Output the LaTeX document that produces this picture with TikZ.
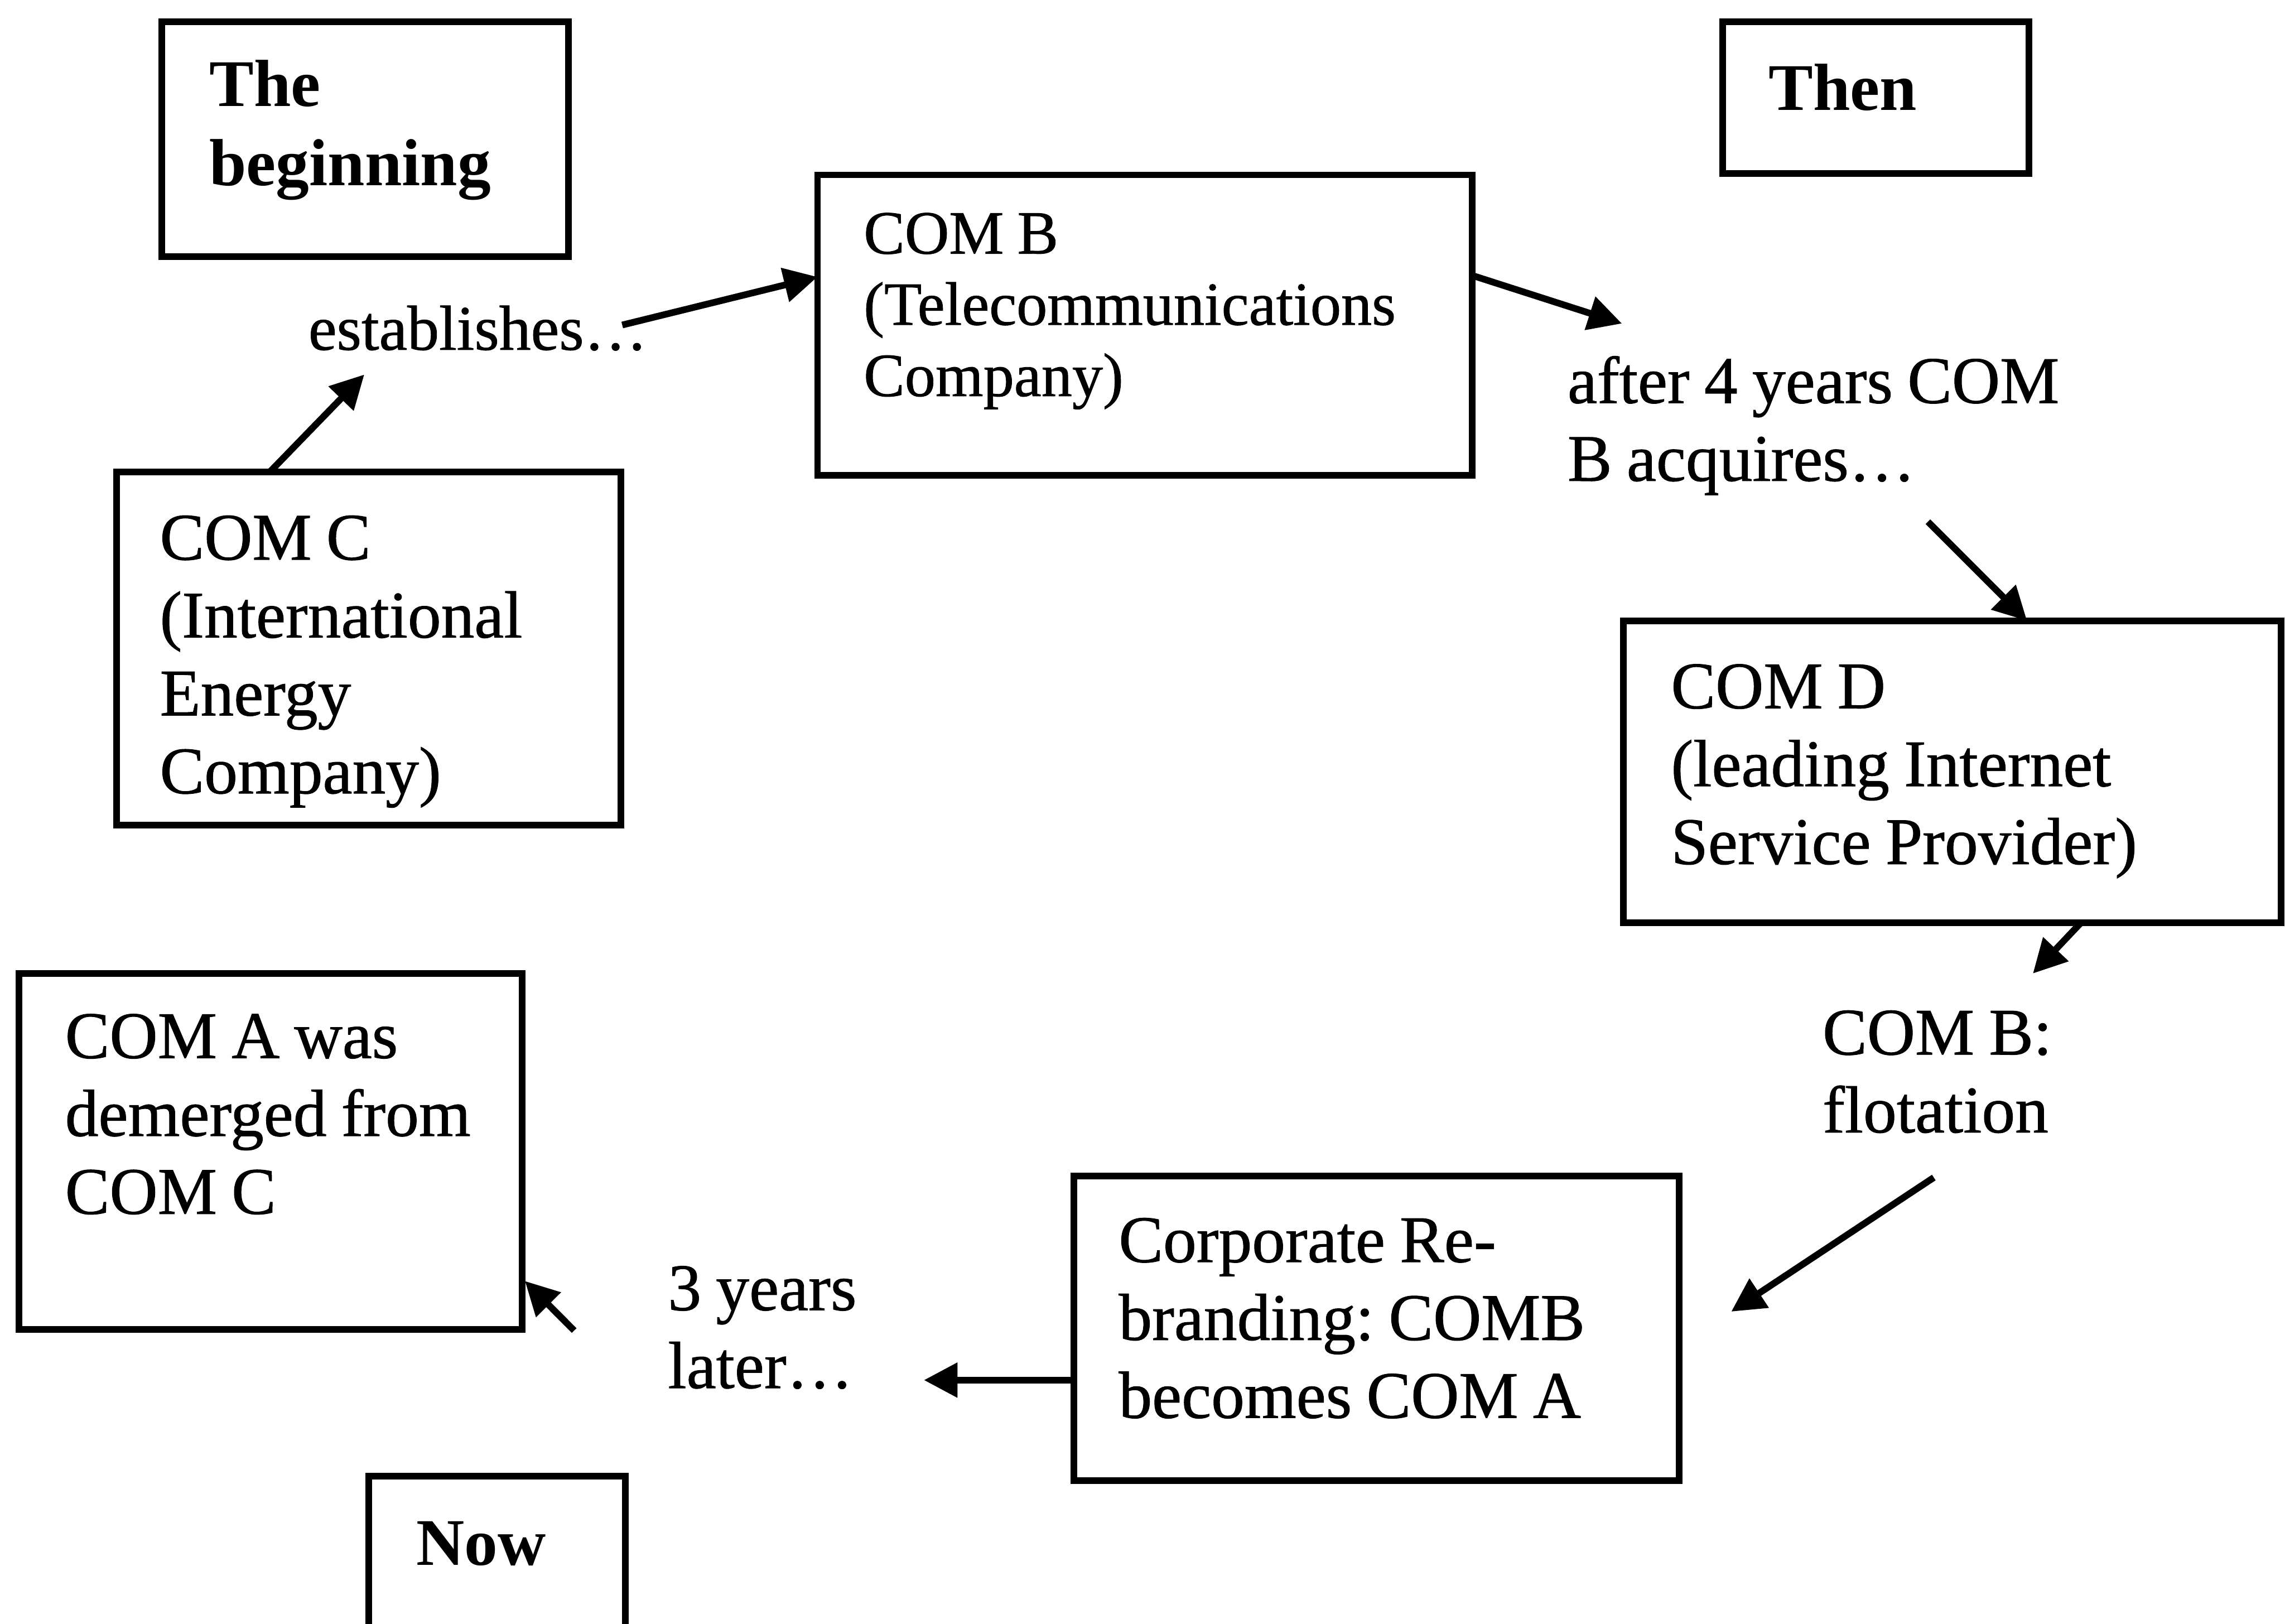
\documentclass[tikz,border=0pt]{standalone}
\usepackage{fontspec}
\setmainfont{Liberation Serif}
\newfontfamily\heavyserif[FakeBold=0.8]{Liberation Serif}
\frenchspacing
\usetikzlibrary{arrows.meta,calc}
% narrower gaps between words, as in the printed boxes
\newcommand{\tightwords}{\fontdimen2\font=0.22em\relax}
% left-aligned lines whose reference point is the first baseline
\newcommand{\textlines}[1]{\begin{tabular}[t]{@{}l@{}}#1\end{tabular}}
\begin{document}
\begin{tikzpicture}[x=0.01cm,y=-0.01cm,
  box/.style={draw,line width=1.3pt,inner sep=0pt,outer sep=0pt,anchor=north west},
  lbl/.style={anchor=base west,inner sep=0pt,
    font=\heavyserif\fontsize{13}{15.2}\selectfont\tightwords},
  smalllbl/.style={lbl,font=\heavyserif\fontsize{12}{13.9}\selectfont\tightwords},
  headlbl/.style={lbl,font=\fontsize{13}{15.4}\selectfont\bfseries},
  arr/.style={line width=1.3pt,-{Triangle[length=0.23cm,width=0.23cm]}}]
\fill[white] (0,0) rectangle (1568,1114);
\clip (0,0) rectangle (1568,1114);

% frames
\node[box,minimum width=2.79cm,minimum height=1.61cm] (beg)  at (111,15)  {};
\node[box,minimum width=2.10cm,minimum height=1.04cm] (then) at (1182,15) {};
\node[box,minimum width=4.49cm,minimum height=2.06cm] (comb) at (561,120) {};
\node[box,minimum width=3.46cm,minimum height=2.42cm] (comc) at (80,324)  {};
\node[box,minimum width=4.51cm,minimum height=2.07cm] (comd) at (1114,426) {};
\node[box,minimum width=3.45cm,minimum height=2.44cm] (coma) at (13,668)  {};
\node[box,minimum width=4.15cm,minimum height=2.09cm] (corp) at (737,807) {};
\node[box,minimum width=1.76cm,minimum height=2.00cm] (now)  at (253,1013) {};

% texts inside the frames
\node[headlbl] (begT)  at (143,73)   {\textlines{The\\beginning}};
\node[headlbl] (thenT) at (1213,75.5) {Then};
\node[headlbl] (nowT)  at (285,1074) {Now};
\node[smalllbl] (combT) at (592,174) {\textlines{COM B\\(Telecommunications\\Company)}};
\node[lbl] (comcT) at (109,384) {\textlines{COM C\\(International\\Energy\\Company)}};
\node[lbl] (comdT) at (1146,486) {\textlines{COM D\\(leading Internet\\Service Provider)}};
\node[lbl] (comaT) at (44,726) {\textlines{COM A was\\demerged from\\COM C}};
\node[lbl] (corpT) at (767,866) {\textlines{Corporate Re-\\branding: COMB\\becomes COM A}};

% free labels between the frames
\node[lbl,font=\heavyserif\fontsize{12.4}{15}\selectfont] (estT) at (211,240) {establishes…};
\node[lbl] (afterT) at (1075,276.5) {\textlines{after 4 years COM\\B acquires…}};
\node[lbl] (flotT)  at (1250,723.6) {\textlines{COM B:\\flotation}};
\node[lbl] (yearsT) at (457.7,899) {\textlines{3 years\\later…}};

% arrow ends next to the labels
\coordinate (p1) at (250,257);
\coordinate (s2) at (427,223);
\coordinate (p3) at (1113,222);
\coordinate (s4) at (1323,358);
\coordinate (p5) at (1395,668);
\coordinate (s6) at (1327,808);
\coordinate (p6) at (1188,900);
\coordinate (p7) at (634,947);
\coordinate (s8) at (394,913);

% connectors
\draw[arr] ($(comc.north west)+(105,0)$) -- (p1);
\draw[arr] (s2) -- ($(comb.north west)+(0,70)$);
\draw[arr] ($(comb.north east)+(0,69)$) -- (p3);
\draw[arr] (s4) -- ($(comd.north west)+(277,0)$);
\draw[arr] ($(comd.south west)+(314,0)$) -- (p5);
\draw[arr] (s6) -- (p6);
\draw[arr] ($(corp.north west)+(0,140)$) -- (p7);
\draw[arr] (s8) -- ($(coma.north east)+(2,211)$);
\end{tikzpicture}
\end{document}
